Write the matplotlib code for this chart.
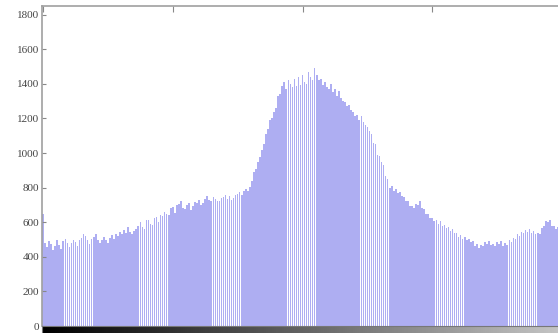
import numpy as np
import matplotlib
matplotlib.use("Agg")
import matplotlib.pyplot as plt

levels = list(range(256))
counts = [
    650, 480, 455, 490, 475, 440, 465, 495, 470, 445, 490, 505, 480, 455, 480, 500,
    485, 460, 495, 510, 530, 520, 500, 475, 505, 515, 530, 495, 480, 500, 515, 495,
    480, 510, 525, 505, 530, 520, 545, 530, 555, 540, 570, 545, 530, 550, 560, 580,
    600, 575, 560, 610, 615, 590, 585, 625, 630, 600, 640, 635, 660, 650, 640, 680,
    690, 655, 700, 705, 720, 680, 675, 700, 710, 670, 695, 715, 710, 730, 700, 710,
    735, 750, 730, 720, 745, 735, 725, 720, 740, 745, 760, 735, 750, 730, 740, 755,
    765, 775, 755, 780, 790, 780, 805, 840, 890, 905, 950, 975, 1020, 1050, 1110, 1140,
    1190, 1200, 1240, 1260, 1330, 1340, 1390, 1410, 1370, 1420, 1400, 1380, 1430, 1390, 1440, 1395,
    1450, 1410, 1400, 1470, 1440, 1420, 1490, 1450, 1420, 1430, 1395, 1410, 1380, 1370, 1400, 1350,
    1370, 1330, 1360, 1320, 1300, 1295, 1270, 1280, 1250, 1240, 1215, 1220, 1190, 1215, 1180, 1160,
    1150, 1130, 1110, 1060, 1050, 990, 985, 950, 930, 870, 850, 800, 810, 780, 790, 770,
    775, 750, 745, 720, 720, 695, 695, 680, 705, 700, 725, 680, 675, 645, 650, 625,
    625, 605, 615, 590, 605, 580, 585, 565, 570, 550, 560, 535, 540, 515, 525, 505,
    515, 495, 505, 485, 490, 465, 475, 450, 470, 465, 485, 475, 490, 470, 475, 465,
    485, 475, 490, 460, 480, 470, 495, 485, 510, 505, 530, 520, 545, 535, 555, 545,
    560, 540, 550, 530, 540, 530, 565, 580, 605, 600, 610, 580, 580, 560, 570, 555,
]
yticks = [0, 200, 400, 600, 800, 1000, 1200, 1400, 1600, 1800]
xticks = [0, 64, 128, 192, 255]

W, H = 558, 333
fig = plt.figure(figsize=(W / 100, H / 100), dpi=100)
fig.patch.set_facecolor("white")

left = 42 / W
width = (560 - 42) / W
bottom = (H - 326) / H
top = (H - 6) / H
ax = fig.add_axes([left, bottom, width, top - bottom])
ax.bar(levels, counts, width=0.8, color="#aeaef2", linewidth=0)
ax.set_xlim(-0.5, 255)
ax.set_ylim(0, 1850)
ax.set_yticks(yticks)
ax.set_yticklabels([str(t) for t in yticks], family="Liberation Serif",
                   fontsize=8, color="#444444")
ax.set_xticks(xticks)
ax.tick_params(axis="x", which="both", top=True, bottom=False, labelbottom=False,
               direction="in", length=4, color="#888888")
ax.tick_params(axis="y", direction="in", length=3, color="#888888", pad=2)
for s in ax.spines.values():
    s.set_color("#a0a0a0")
    s.set_linewidth(1.2)
ax.spines["bottom"].set_visible(False)

# grayscale bar below the axes
cax = fig.add_axes([left, (H - 344) / H, width, 18 / H])
grad = np.array(levels, dtype=float).reshape(1, -1)
cax.imshow(grad, aspect="auto", cmap="gray", vmin=0, vmax=330,
           extent=(-0.5, 255.5, 0, 1))
cax.set_xlim(-0.5, 255)
cax.set_yticks([])
cax.set_xticks(xticks)
cax.tick_params(axis="x", direction="in", length=3, color="#555555", labelbottom=False)
for s in cax.spines.values():
    s.set_color("#777777")

fig.savefig("out.png", dpi=100)
